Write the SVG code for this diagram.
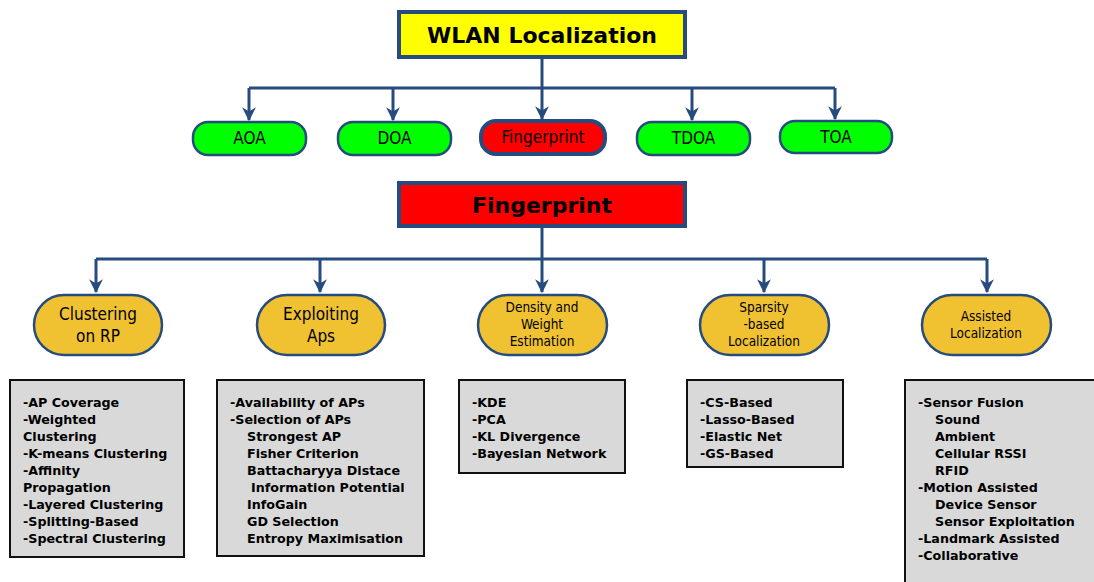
<svg xmlns="http://www.w3.org/2000/svg" width="1094" height="582" viewBox="0 0 1094 582">
<style>
.title{font-family:"DejaVu Sans",Verdana,sans-serif;font-weight:bold;font-size:22px;fill:#000;text-anchor:middle}
.tbox{stroke:#264b7e;stroke-width:4}
.gnode{fill:#00ff00;stroke:#264b7e;stroke-width:2.5}
.glabel{font-family:"DejaVu Sans Condensed","DejaVu Sans",sans-serif;font-size:17px;fill:#000;text-anchor:middle}
.ynode{fill:#f0c232;stroke:#264b7e;stroke-width:2.5}
.ylabel{font-family:"DejaVu Sans Condensed","DejaVu Sans",sans-serif;font-size:17px;fill:#000;text-anchor:middle}
.ylabel-s{font-family:"DejaVu Sans Condensed","DejaVu Sans",sans-serif;font-size:13.5px;fill:#000;text-anchor:middle}
.list{fill:#d9d9d9;stroke:#111;stroke-width:2}
.ltext{font-family:"DejaVu Sans",Verdana,sans-serif;font-weight:bold;font-size:12.7px;fill:#000}
.conn{fill:none;stroke:#264b7e;stroke-width:3}
</style>
<defs>
<marker id="arr" viewBox="0 0 12 12" refX="11" refY="6" markerWidth="4.6" markerHeight="4.6" orient="auto" markerUnits="strokeWidth">
<path d="M0,0 L12,6 L0,12 L3.5,6 z" fill="#264b7e"/>
</marker>
</defs>
<rect width="1094" height="582" fill="#fff"/>

<g id="connectors">
<path class="conn" d="M542,57 V88"/>
<path class="conn" d="M249,88 H835"/>
<path class="conn" d="M249,88 V120" marker-end="url(#arr)"/>
<path class="conn" d="M393,88 V120" marker-end="url(#arr)"/>
<path class="conn" d="M542,88 V119" marker-end="url(#arr)"/>
<path class="conn" d="M692,88 V120" marker-end="url(#arr)"/>
<path class="conn" d="M835,88 V119" marker-end="url(#arr)"/>
<path class="conn" d="M542,226 V259"/>
<path class="conn" d="M96,259 H987"/>
<path class="conn" d="M96,259 V292" marker-end="url(#arr)"/>
<path class="conn" d="M320,259 V292" marker-end="url(#arr)"/>
<path class="conn" d="M542,259 V292" marker-end="url(#arr)"/>
<path class="conn" d="M764,259 V292" marker-end="url(#arr)"/>
<path class="conn" d="M987,259 V292" marker-end="url(#arr)"/>
</g>

<g id="wlan">
<rect class="tbox" x="399" y="12" width="286" height="45" fill="#ffff00"/>
<text class="title" x="542" y="43">WLAN Localization</text>
</g>

<g id="aoa"><rect class="gnode" x="193" y="122" width="113" height="33" rx="15"/><text class="glabel" x="249.5" y="144">AOA</text></g>
<g id="doa"><rect class="gnode" x="338" y="122" width="113" height="33" rx="15"/><text class="glabel" x="394.5" y="144">DOA</text></g>
<g id="fp-small"><rect x="481" y="121" width="124" height="33" rx="15" fill="#ff0000" stroke="#264b7e" stroke-width="4"/><text class="glabel" x="543" y="143">Fingerprint</text></g>
<g id="tdoa"><rect class="gnode" x="637" y="122" width="113" height="33" rx="15"/><text class="glabel" x="693.5" y="144">TDOA</text></g>
<g id="toa"><rect class="gnode" x="780" y="121" width="112" height="32" rx="15"/><text class="glabel" x="836" y="143">TOA</text></g>

<g id="fingerprint">
<rect class="tbox" x="399" y="183" width="286" height="43" fill="#ff0000"/>
<text class="title" x="542" y="213">Fingerprint</text>
</g>

<g id="clustering"><rect class="ynode" x="34" y="295" width="128" height="60" rx="30"/><text class="ylabel" x="98" y="320">Clustering</text><text class="ylabel" x="98" y="342">on RP</text></g>
<g id="exploiting"><rect class="ynode" x="257" y="295" width="128" height="60" rx="30"/><text class="ylabel" x="321" y="320">Exploiting</text><text class="ylabel" x="321" y="342">Aps</text></g>
<g id="density"><rect class="ynode" x="478" y="295" width="129" height="60" rx="30"/><text class="ylabel-s" x="542" y="312">Density and</text><text class="ylabel-s" x="542" y="329">Weight</text><text class="ylabel-s" x="542" y="346">Estimation</text></g>
<g id="sparsity"><rect class="ynode" x="700" y="295" width="129" height="60" rx="30"/><text class="ylabel-s" x="764" y="312">Sparsity</text><text class="ylabel-s" x="764" y="329">-based</text><text class="ylabel-s" x="764" y="346">Localization</text></g>
<g id="assisted"><rect class="ynode" x="922" y="295" width="129" height="60" rx="30"/><text class="ylabel-s" x="986" y="321">Assisted</text><text class="ylabel-s" x="986" y="338">Localization</text></g>

<g id="list-clustering">
<rect class="list" x="10" y="380" width="174" height="177"/>
<text class="ltext" x="23" y="407">-AP Coverage</text>
<text class="ltext" x="23" y="424">-Weighted</text>
<text class="ltext" x="23" y="441">Clustering</text>
<text class="ltext" x="23" y="458">-K-means Clustering</text>
<text class="ltext" x="23" y="475">-Affinity</text>
<text class="ltext" x="23" y="492">Propagation</text>
<text class="ltext" x="23" y="509">-Layered Clustering</text>
<text class="ltext" x="23" y="526">-Splitting-Based</text>
<text class="ltext" x="23" y="543">-Spectral Clustering</text>
</g>

<g id="list-exploiting">
<rect class="list" x="217" y="380" width="207" height="176"/>
<text class="ltext" x="230" y="407">-Availability of APs</text>
<text class="ltext" x="230" y="424">-Selection of APs</text>
<text class="ltext" x="247" y="441">Strongest AP</text>
<text class="ltext" x="247" y="458">Fisher Criterion</text>
<text class="ltext" x="247" y="475">Battacharyya Distace</text>
<text class="ltext" x="251" y="492">Information Potential</text>
<text class="ltext" x="247" y="509">InfoGain</text>
<text class="ltext" x="247" y="526">GD Selection</text>
<text class="ltext" x="247" y="543">Entropy Maximisation</text>
</g>

<g id="list-density">
<rect class="list" x="459" y="380" width="166" height="93"/>
<text class="ltext" x="472" y="407">-KDE</text>
<text class="ltext" x="472" y="424">-PCA</text>
<text class="ltext" x="472" y="441">-KL Divergence</text>
<text class="ltext" x="472" y="458">-Bayesian Network</text>
</g>

<g id="list-sparsity">
<rect class="list" x="687" y="380" width="156" height="87"/>
<text class="ltext" x="700" y="407">-CS-Based</text>
<text class="ltext" x="700" y="424">-Lasso-Based</text>
<text class="ltext" x="700" y="441">-Elastic Net</text>
<text class="ltext" x="700" y="458">-GS-Based</text>
</g>

<g id="list-assisted">
<rect class="list" x="905" y="380" width="200" height="210"/>
<text class="ltext" x="918" y="407">-Sensor Fusion</text>
<text class="ltext" x="935" y="424">Sound</text>
<text class="ltext" x="935" y="441">Ambient</text>
<text class="ltext" x="935" y="458">Cellular RSSI</text>
<text class="ltext" x="935" y="475">RFID</text>
<text class="ltext" x="918" y="492">-Motion Assisted</text>
<text class="ltext" x="935" y="509">Device Sensor</text>
<text class="ltext" x="935" y="526">Sensor Exploitation</text>
<text class="ltext" x="918" y="543">-Landmark Assisted</text>
<text class="ltext" x="918" y="560">-Collaborative</text>
</g>
</svg>
